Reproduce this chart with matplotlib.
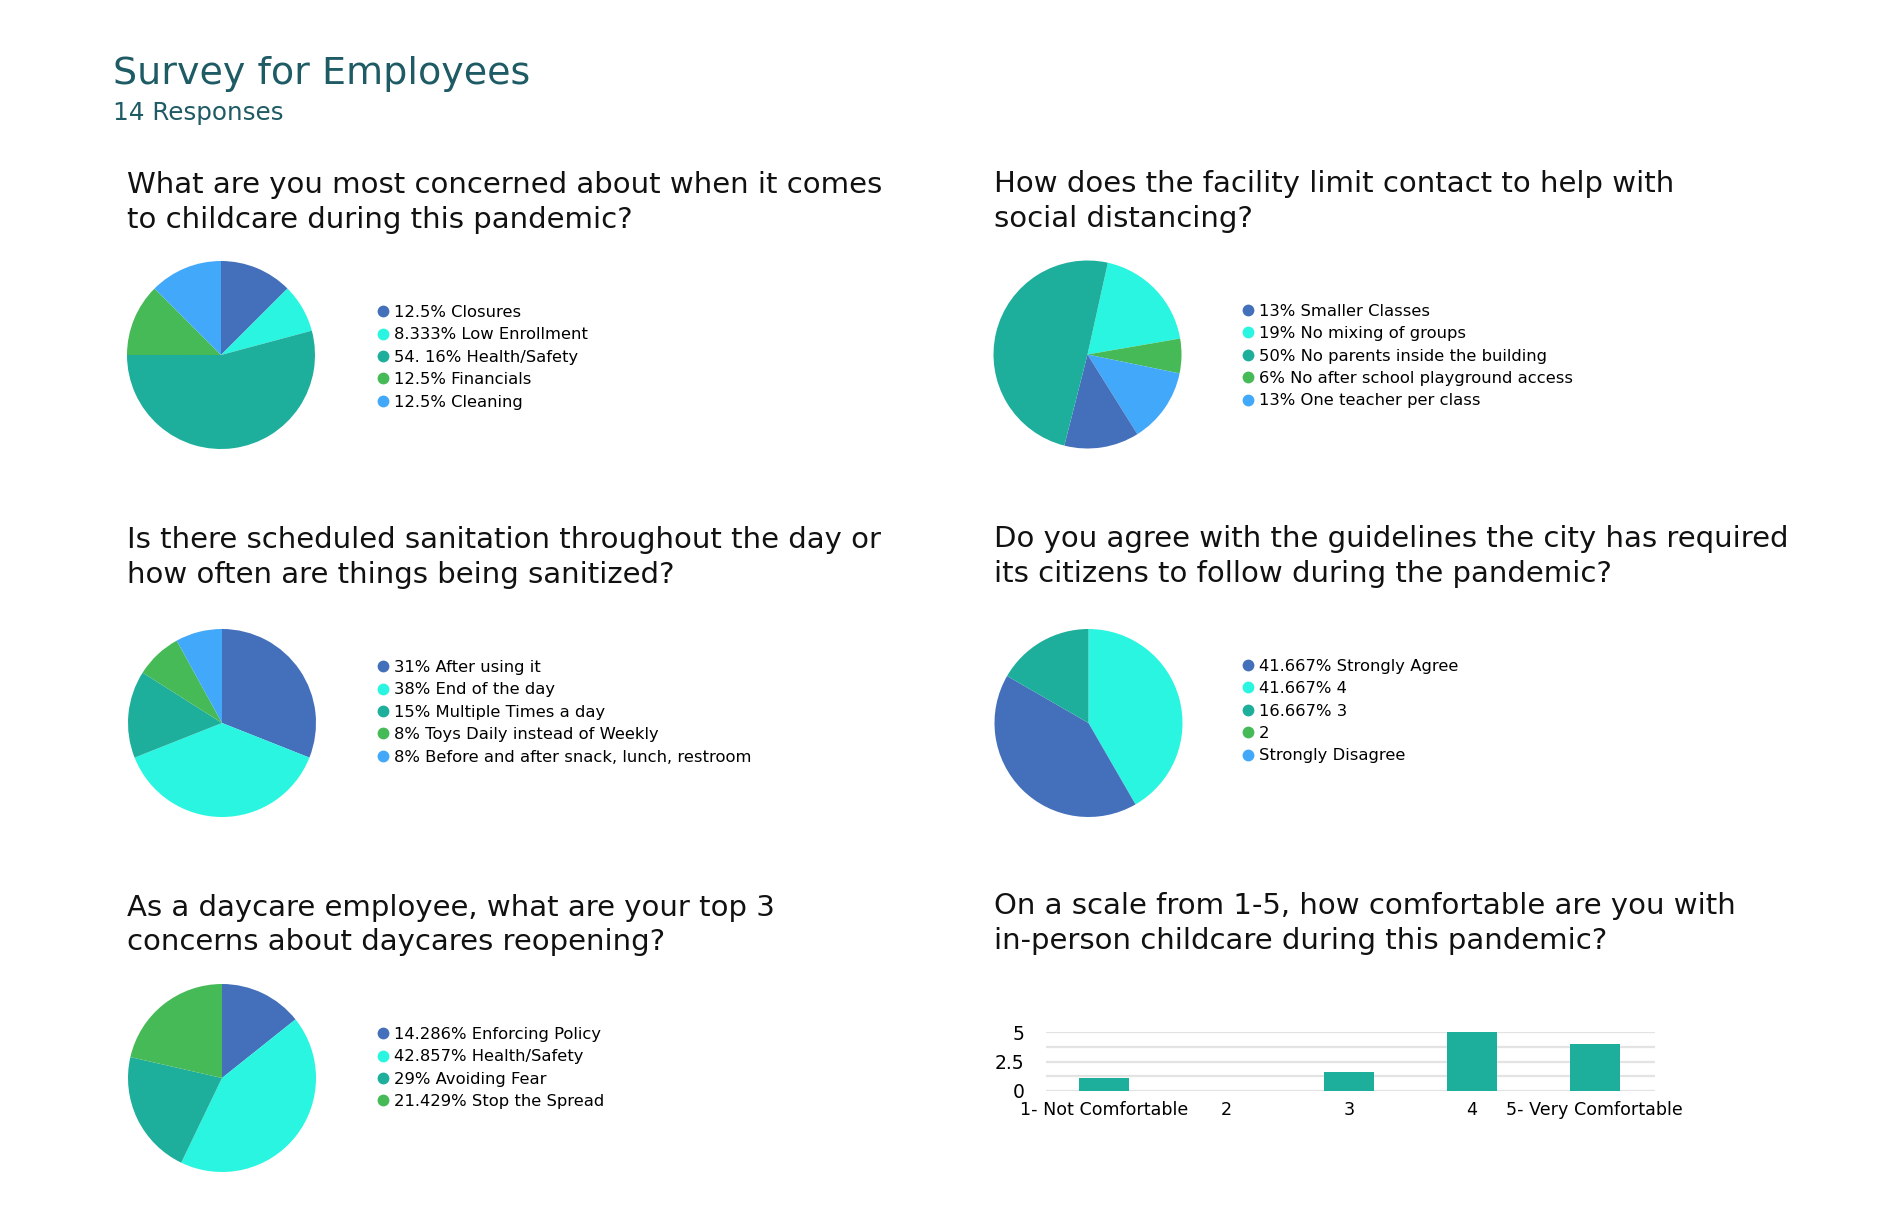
import matplotlib
matplotlib.use("Agg")
import matplotlib.pyplot as plt
from matplotlib.lines import Line2D

plt.rcParams['font.family'] = ['DejaVu Sans']

W, H = 1900, 1229
def fx(p): return p / W
def fy(p): return 1 - p / H

# ---------------- data ----------------
title = "Survey for Employees"
subtitle = "14 Responses"

q1 = ["What are you most concerned about when it comes", "to childcare during this pandemic?"]
q1_labels = ["12.5% Closures", "8.333% Low Enrollment", "54. 16% Health/Safety",
             "12.5% Financials", "12.5% Cleaning"]
q1_values = [12.5, 8.333, 54.16, 12.5, 12.5]

q2 = ["How does the facility limit contact to help with", "social distancing?"]
q2_labels = ["13% Smaller Classes", "19% No mixing of groups",
             "50% No parents inside the building",
             "6% No after school playground access", "13% One teacher per class"]
q2_values = [13, 19, 50, 6, 13]

q3 = ["Is there scheduled sanitation throughout the day or",
      "how often are things being sanitized?"]
q3_labels = ["31% After using it", "38% End of the day", "15% Multiple Times a day",
             "8% Toys Daily instead of Weekly",
             "8% Before and after snack, lunch, restroom"]
q3_values = [31, 38, 15, 8, 8]

q4 = ["Do you agree with the guidelines the city has required",
      "its citizens to follow during the pandemic?"]
q4_labels = ["41.667% Strongly Agree", "41.667% 4", "16.667% 3", "2", "Strongly Disagree"]
q4_values = [41.667, 41.667, 16.667, 0, 0]

q5 = ["As a daycare employee, what are your top 3",
      "concerns about daycares reopening?"]
q5_labels = ["14.286% Enforcing Policy", "42.857% Health/Safety", "29% Avoiding Fear",
             "21.429% Stop the Spread"]
q5_values = [14.286, 42.857, 21.429, 21.429]

q6 = ["On a scale from 1-5, how comfortable are you with",
      "in-person childcare during this pandemic?"]
q6_categories = ["1- Not Comfortable", "2", "3", "4", "5- Very Comfortable"]
q6_values = [1.1, 0, 1.6, 5, 4]

# ---------------- style ----------------
colors = ["#4470BB", "#2AF5E0", "#1DAE9C", "#45BA57", "#42A8F9"]
title_color = "#1E5B64"
q_size = 21
leg_size = 11.8

fig = plt.figure(figsize=(W / 100, H / 100), dpi=100)
fig.patch.set_facecolor("white")

fig.text(fx(113), fy(84), title, fontsize=27.4, color=title_color, va="baseline", ha="left")
fig.text(fx(113), fy(120), subtitle, fontsize=17.7, color=title_color, va="baseline", ha="left")

questions = [(q1, 127, 193.3), (q2, 994, 192), (q3, 127, 548.3), (q4, 994, 547),
             (q5, 127, 915.5), (q6, 994, 914.3)]
for lines, x, y in questions:
    for k, line in enumerate(lines):
        fig.text(fx(x), fy(y + 35 * k), line, fontsize=q_size, color="#111111",
                 va="baseline", ha="left")

R = 94
pies = [
    (q1_values, q1_labels, (221, 355), [0, 1, 2, 3, 4], 90, 357.2),
    (q2_values, q2_labels, (1087.5, 354.5), [1, 3, 4, 0, 2], 77.5, 356),
    (q3_values, q3_labels, (222, 723), [0, 1, 2, 3, 4], 90, 712.2),
    (q4_values, q4_labels, (1088.5, 723), [1, 0, 2, 3, 4], 90, 711),
    (q5_values, q5_labels, (222, 1078), [0, 1, 2, 3], 90, 1068),
]
for vals, labels, (cx, cy), order, start, ly in pies:
    ax = fig.add_axes([fx(cx - R), fy(cy + R), 2 * R / W, 2 * R / H])
    ax.pie([vals[i] for i in order], colors=[colors[i] for i in order],
           startangle=start, counterclock=False, radius=1,
           wedgeprops={"linewidth": 0})
    ax.set_xlim(-1, 1)
    ax.set_ylim(-1, 1)
    lx = 378 if cx < 900 else 1243
    handles = [Line2D([], [], marker="o", linestyle="", markersize=8.5,
                      markerfacecolor=colors[i], markeredgecolor="none")
               for i in range(len(labels))]
    fig.legend(handles, labels, loc="center left", bbox_to_anchor=(fx(lx), fy(ly)),
               frameon=False, borderpad=0, borderaxespad=0, handlelength=0.6,
               handletextpad=0.38, labelspacing=0.455, fontsize=leg_size)

# bar chart
bx0, bx1, by0, by1 = 1046, 1655, 1091, 1032
bax = fig.add_axes([fx(bx0), fy(by0), (bx1 - bx0) / W, (by0 - by1) / H])
xs = list(range(len(q6_categories)))
bax.bar(xs, q6_values, width=0.41, color=colors[2], zorder=3)
bax.set_xlim(-0.47, 4.49)
bax.set_ylim(0, 5)
bax.set_yticks([0, 2.5, 5])
bax.set_yticklabels(["0", "2.5", "5"])
bax.set_yticks([1.25, 3.75], minor=True)
bax.set_xticks(xs)
bax.set_xticklabels(q6_categories)
bax.grid(axis="y", which="both", color="#E3E3E3", linewidth=1.6, zorder=0)
bax.grid(axis="x", visible=False)
for s in bax.spines.values():
    s.set_visible(False)
bax.tick_params(axis="y", which="both", length=0, pad=15.5, labelsize=13.5)
bax.tick_params(axis="x", length=0, pad=7.5, labelsize=12.6)

fig.savefig("out.png", dpi=100, facecolor="white")
